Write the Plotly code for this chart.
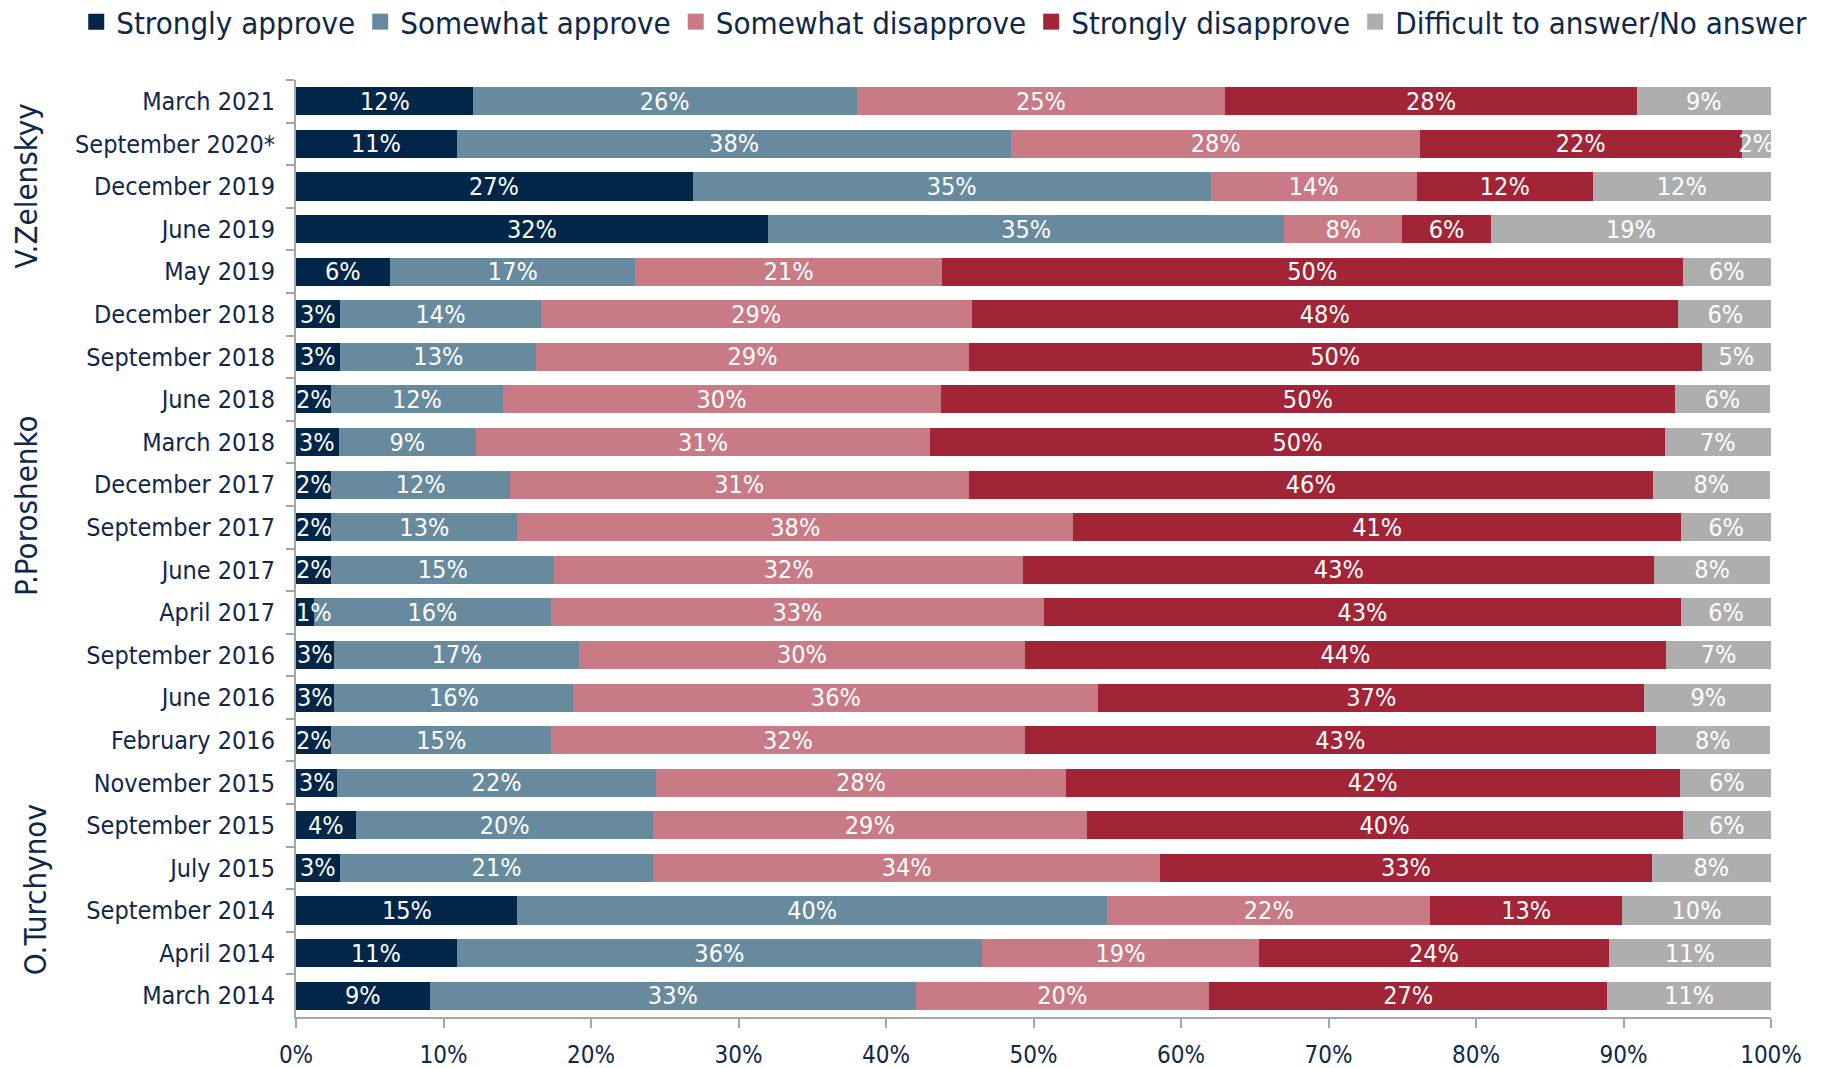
import plotly.graph_objects as go

categories = [
    "March 2021", "September 2020*", "December 2019", "June 2019", "May 2019",
    "December 2018", "September 2018", "June 2018", "March 2018", "December 2017",
    "September 2017", "June 2017", "April 2017", "September 2016", "June 2016",
    "February 2016", "November 2015", "September 2015", "July 2015",
    "September 2014", "April 2014", "March 2014",
]

strongly_approve = [12.0, 10.9, 26.9, 32.0, 6.4, 3.0, 3.0, 2.4, 2.9, 2.4, 2.4, 2.4, 1.2, 2.6, 2.6, 2.4, 2.8, 4.1, 3.0, 15.0, 10.9, 9.1]
somewhat_approve = [26.0, 37.6, 35.1, 35.0, 16.6, 13.6, 13.3, 11.6, 9.3, 12.1, 12.6, 15.1, 16.1, 16.6, 16.2, 14.9, 21.6, 20.1, 21.2, 40.0, 35.6, 32.9]
somewhat_disapprove = [25.0, 27.7, 14.0, 8.0, 20.8, 29.2, 29.3, 29.7, 30.8, 31.1, 37.7, 31.8, 33.4, 30.2, 35.6, 32.1, 27.8, 29.4, 34.4, 21.9, 18.8, 19.9]
strongly_disapprove = [27.9, 21.8, 11.9, 6.0, 50.2, 47.9, 49.7, 49.8, 49.8, 46.4, 41.2, 42.8, 43.2, 43.5, 37.0, 42.8, 41.6, 40.4, 33.3, 13.0, 23.7, 27.0]
no_answer = [9.1, 2.0, 12.1, 19.0, 6.0, 6.4, 4.7, 6.4, 7.2, 7.9, 6.1, 7.8, 6.1, 7.1, 8.7, 7.7, 6.4, 6.0, 8.1, 10.1, 11.0, 11.1]

series_names = ["Strongly approve", "Somewhat approve", "Somewhat disapprove",
                "Strongly disapprove", "Difficult to answer/No answer"]
series_values = [strongly_approve, somewhat_approve, somewhat_disapprove,
                 strongly_disapprove, no_answer]
series_colors = ["#022648", "#678a9e", "#c87b85", "#a22537", "#aeaeae"]

groups = [("V.Zelenskyy", 2.0, -0.183), ("P.Poroshenko", 9.5, -0.183), ("O.Turchynov", 18.5, -0.177)]

NAVY = "#0f284a"
COND = "DejaVu Sans Condensed, DejaVu Sans, sans-serif"
LABEL_FONT = dict(color="white", size=25, family=COND)

fig = go.Figure()
for i, (name, vals, col) in enumerate(zip(series_names, series_values, series_colors)):
    fig.add_trace(go.Bar(
        y=categories, x=vals, name=name, orientation="h",
        marker=dict(color=col, line=dict(width=0)),
        texttemplate="%{x:.0f}%" if i > 0 else None,
        textposition="inside" if i > 0 else "none", textangle=0,
        insidetextanchor="middle", constraintext="none",
        textfont=LABEL_FONT,
        hoverinfo="x+name", showlegend=False,
    ))

# labels of the first series drawn on top so narrow-bar labels stay visible
for cat, v in zip(categories, strongly_approve):
    fig.add_annotation(
        x=max(v / 2, 1.2), y=cat, xref="x", yref="y",
        text=f"{v:.0f}%", showarrow=False, font=LABEL_FONT,
        xanchor="center", yanchor="middle",
    )

# legend entries with larger square symbols
for name, col in zip(series_names, series_colors):
    fig.add_trace(go.Scatter(
        x=[None], y=[None], mode="markers", name=name,
        marker=dict(symbol="square", size=17, color=col),
        showlegend=True, hoverinfo="skip",
    ))

for label, ypos, xpos in groups:
    fig.add_annotation(
        text=label, x=xpos, xref="paper", y=ypos, yref="y",
        textangle=-90, showarrow=False,
        font=dict(size=31, color=NAVY, family=COND),
        xanchor="center", yanchor="middle",
    )

fig.update_layout(
    width=1839, height=1068,
    barmode="stack", bargap=0.34,
    plot_bgcolor="white", paper_bgcolor="white",
    margin=dict(l=296, r=68, t=80, b=51, autoexpand=False),
    font=dict(family=COND, color=NAVY, size=25),
    legend=dict(
        orientation="h", x=-0.149, xanchor="left", y=1.0619, yanchor="middle",
        font=dict(size=31, color=NAVY, family=COND),
        traceorder="normal", itemwidth=30, tracegroupgap=0,
        itemsizing="trace", bgcolor="rgba(0,0,0,0)",
    ),
    xaxis=dict(
        range=[0, 100], dtick=10, ticksuffix="%", showgrid=False,
        showline=True, linecolor="#a6a6a6", linewidth=2,
        ticks="outside", ticklen=9, tickcolor="#a6a6a6", tickwidth=2,
        tickfont=dict(size=24, color=NAVY, family=COND), zeroline=False,
        ticklabelstandoff=6, automargin=False,
    ),
    yaxis=dict(
        range=[len(categories) - 0.5, -0.5], showgrid=False,
        showline=True, linecolor="#a6a6a6", linewidth=2,
        ticks="outside", tickson="boundaries", ticklen=8,
        tickcolor="#a6a6a6", tickwidth=2,
        tickfont=dict(size=25, color=NAVY, family=COND),
        ticklabelstandoff=14, automargin=False,
    ),
)

fig.write_html(
    "out.html",
    config={"displayModeBar": False},
    post_script="document.body.style.margin='0';",
)
